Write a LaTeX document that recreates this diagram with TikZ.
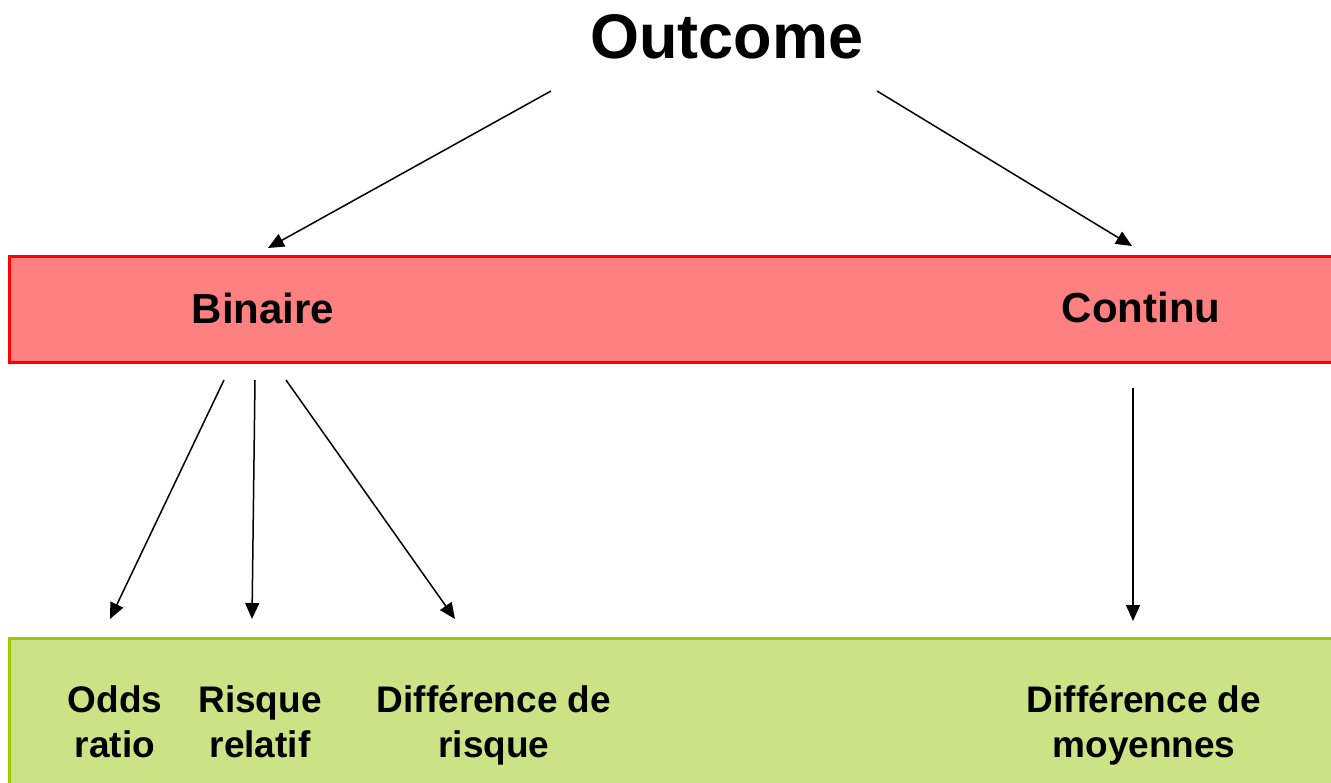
\documentclass[tikz,border=0pt]{standalone}
\usepackage{fontspec}
\setmainfont{Liberation Sans}
\usetikzlibrary{arrows.meta}

\definecolor{barred}{RGB}{255,128,128}
\definecolor{bargreen}{RGB}{204,227,133}
\definecolor{greenline}{RGB}{153,204,0}

\begin{document}
\begin{tikzpicture}[x=1pt, y=-1pt, >={Triangle[length=16pt, width=14pt]},
    arr/.style={->, line width=1.5pt},
    bar/.style={line width=3pt, inner sep=0pt, minimum width=1336pt},
    title/.style={font=\fontsize{63}{70}\selectfont\bfseries, inner sep=0pt, anchor=base},
    kind/.style={font=\fontsize{42}{48}\selectfont\bfseries, inner sep=0pt, anchor=base},
    measure/.style={font=\fontsize{37}{45}\selectfont\bfseries, align=center, inner sep=0pt, anchor=base}]
    \useasboundingbox (0,0) rectangle (1331,782);

    % the two bands
    \node[bar, draw=red, fill=barred, minimum height=106pt] (redbar) at (677,309) {};
    \node[bar, draw=greenline, fill=bargreen, minimum height=200pt] (greenbar) at (677,738) {};

    % texts
    \node[title] (outcome) at (727,58) {Outcome};
    \node[kind] (binaire) at (263,323) {Binaire};
    \node[kind] (continu) at (1141,322) {Continu};

    \node[measure] (odds) at (115,757) {Odds\\ratio};
    \node[measure] (rr) at (260,757) {Risque\\relatif};
    \node[measure] (rd) at (494,757) {Différence de\\risque};
    \node[measure] (md) at (1144,757) {Différence de\\moyennes};

    % arrow ends
    \coordinate (outL) at (551,91);
    \coordinate (outR) at (877,91);
    \coordinate (tipBin) at (268,248);
    \coordinate (tipCon) at (1132,246);
    \coordinate (bin1) at (224,380);
    \coordinate (bin2) at (255,380);
    \coordinate (bin3) at (286,380);
    \coordinate (con1) at (1133,388);
    \coordinate (tipOdds) at (110,619);
    \coordinate (tipRr) at (252,619);
    \coordinate (tipRd) at (455,619);
    \coordinate (tipMd) at (1133,621);

    \draw[arr] (outL) -- (tipBin);
    \draw[arr] (outR) -- (tipCon);
    \draw[arr] (bin1) -- (tipOdds);
    \draw[arr] (bin2) -- (tipRr);
    \draw[arr] (bin3) -- (tipRd);
    \draw[arr] (con1) -- (tipMd);
\end{tikzpicture}
\end{document}
